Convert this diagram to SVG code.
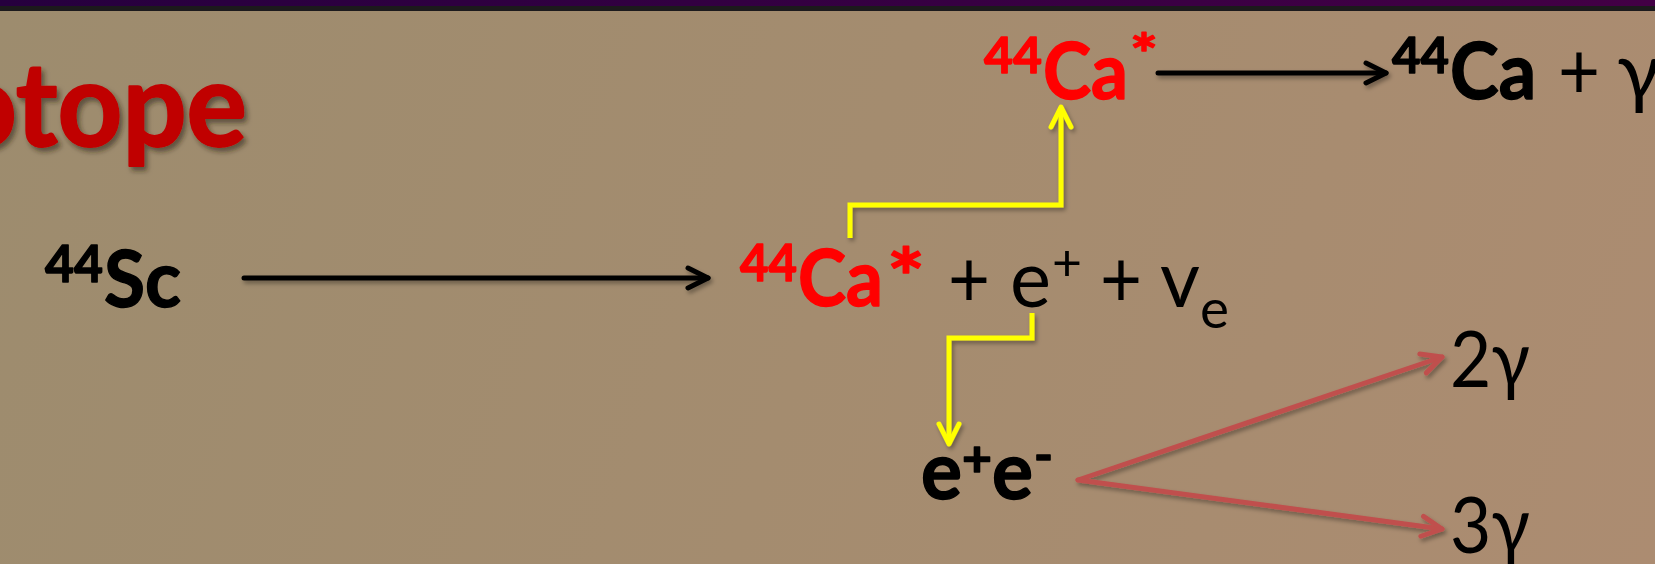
<svg xmlns="http://www.w3.org/2000/svg" width="1655" height="564" viewBox="0 0 1655 564">
  <defs>
    <linearGradient id="bg" x1="0" y1="0" x2="1655" y2="564" gradientUnits="userSpaceOnUse">
      <stop offset="0" stop-color="#9d8c6e"/>
      <stop offset="0.5" stop-color="#a48c6f"/>
      <stop offset="1" stop-color="#ac8c71"/>
    </linearGradient>
    <linearGradient id="bar" x1="0" y1="0" x2="1" y2="0">
      <stop offset="0" stop-color="#26003e"/>
      <stop offset="1" stop-color="#430045"/>
    </linearGradient>
    <filter id="sh" x="-10%" y="-30%" width="130%" height="180%">
      <feDropShadow dx="2" dy="3" stdDeviation="2" flood-color="#000" flood-opacity="0.35"/>
    </filter>
    <filter id="tsh" x="-10%" y="-20%" width="130%" height="150%">
      <feDropShadow dx="3" dy="4" stdDeviation="2.5" flood-color="#2a1a0a" flood-opacity="0.55"/>
    </filter>
    <marker id="mk" viewBox="-24 -13 28 26" refX="0" refY="0" markerWidth="28" markerHeight="26" markerUnits="userSpaceOnUse" orient="auto">
      <path d="M-20,-10 L0,0 L-20,10" fill="none" stroke="#000" stroke-width="5" stroke-linecap="round" stroke-linejoin="round"/>
    </marker>
    <marker id="my" viewBox="-24 -13 28 26" refX="0" refY="0" markerWidth="28" markerHeight="26" markerUnits="userSpaceOnUse" orient="auto">
      <path d="M-20,-10 L0,0 L-20,10" fill="none" stroke="#ffff00" stroke-width="5" stroke-linecap="round" stroke-linejoin="round"/>
    </marker>
    <marker id="mr" viewBox="-24 -13 28 26" refX="0" refY="0" markerWidth="28" markerHeight="26" markerUnits="userSpaceOnUse" orient="auto">
      <path d="M-20,-10 L0,0 L-20,10" fill="none" stroke="#c0504d" stroke-width="5" stroke-linecap="round" stroke-linejoin="round"/>
    </marker>
  </defs>
  <style>
    text { font-family: Lato, "Open Sans", "Liberation Sans", sans-serif; }
    .b { font-weight: 700; stroke-width: 1.4px; stroke-linejoin: round; }
    .r { font-weight: 400; }
    .red { fill: #ff0000; }
    .blk { fill: #000; }
    .b.red { stroke: #ff0000; }
    .b.blk { stroke: #000; }
    .title { fill: #c00000; stroke: #c00000; stroke-width: 2px; stroke-linejoin: round; font-weight: 700; font-size: 116px; }
    .sup { font-size: 51px; }
    .big { font-size: 79px; }
    .reg { font-size: 80px; }
    .kline { fill: none; stroke: #000; stroke-width: 5; stroke-linecap: round; marker-end: url(#mk); }
    .yline { fill: none; stroke: #ffff00; stroke-width: 5; stroke-linejoin: miter; marker-end: url(#my); }
    .rline { fill: none; stroke: #c0504d; stroke-width: 5; stroke-linecap: round; marker-end: url(#mr); }
  </style>

  <rect x="0" y="0" width="1655" height="564" fill="url(#bg)"/>
  <rect x="0" y="0" width="1655" height="6" fill="url(#bar)"/>
  <rect x="0" y="6" width="1655" height="5" fill="#1c1a1c"/>

  <g id="title">
    <text class="title" x="-48" y="146" textLength="295" lengthAdjust="spacingAndGlyphs" filter="url(#tsh)">otope</text>
  </g>

  <g id="connectors" filter="url(#sh)">
    <line class="kline" x1="244" y1="278" x2="708" y2="278"/>
    <line class="kline" x1="1158" y1="73" x2="1386" y2="73"/>
    <polyline class="yline" points="850,238 850,205 1061,205 1061,107"/>
    <polyline class="yline" points="1032,313 1032,338 949,338 949,444"/>
    <line class="rline" x1="1078" y1="480" x2="1442" y2="357"/>
    <line class="rline" x1="1078" y1="480" x2="1442" y2="529"/>
  </g>

  <g id="sc44">
    <text class="b blk sup" x="45" y="282" textLength="58" lengthAdjust="spacingAndGlyphs">44</text>
    <text class="b blk big" x="104" y="307" textLength="77" lengthAdjust="spacingAndGlyphs">Sc</text>
  </g>

  <g id="ca44-excited">
    <text class="b red sup" x="740" y="281" textLength="57" lengthAdjust="spacingAndGlyphs">44</text>
    <text class="b red big" x="798" y="306" textLength="85" lengthAdjust="spacingAndGlyphs">Ca</text>
    <text class="b red big" x="887" y="306" textLength="38" lengthAdjust="spacingAndGlyphs">*</text>
  </g>

  <g id="products">
    <text class="r blk reg" x="948" y="307" textLength="42" lengthAdjust="spacingAndGlyphs">+</text>
    <text class="r blk reg" x="1010" y="307" textLength="41" lengthAdjust="spacingAndGlyphs">e</text>
    <text class="r blk" font-size="50" x="1052" y="280" textLength="30" lengthAdjust="spacingAndGlyphs">+</text>
    <text class="r blk reg" x="1100" y="307" textLength="42" lengthAdjust="spacingAndGlyphs">+</text>
    <text class="r blk reg" x="1160" y="307" textLength="40" lengthAdjust="spacingAndGlyphs">v</text>
    <text class="r blk" font-size="55" x="1200" y="328" textLength="29" lengthAdjust="spacingAndGlyphs">e</text>
  </g>

  <g id="ca44-top">
    <text class="b red" font-size="50" x="984" y="73" textLength="58" lengthAdjust="spacingAndGlyphs">44</text>
    <text class="b red" font-size="78" x="1043" y="99" textLength="85" lengthAdjust="spacingAndGlyphs">Ca</text>
    <text class="b red" font-size="56" x="1130" y="74" textLength="28" lengthAdjust="spacingAndGlyphs">*</text>
  </g>

  <g id="ca44-ground">
    <text class="b blk" font-size="50" x="1392" y="73" textLength="57" lengthAdjust="spacingAndGlyphs">44</text>
    <text class="b blk" font-size="78" x="1450" y="99" textLength="86" lengthAdjust="spacingAndGlyphs">Ca</text>
    <text class="r blk reg" x="1558" y="99" textLength="42" lengthAdjust="spacingAndGlyphs">+</text>
    <text class="r blk reg" x="1617" y="99">γ</text>
  </g>

  <g id="pair">
    <text class="b blk reg" x="921" y="499" textLength="41" lengthAdjust="spacingAndGlyphs">e</text>
    <text class="b blk" font-size="50" x="962" y="476" textLength="30" lengthAdjust="spacingAndGlyphs">+</text>
    <text class="b blk reg" x="992" y="499" textLength="41" lengthAdjust="spacingAndGlyphs">e</text>
    <text class="b blk" font-size="50" x="1034" y="473" textLength="19" lengthAdjust="spacingAndGlyphs">-</text>
  </g>

  <g id="two-gamma">
    <text class="r blk" font-size="78" x="1450" y="387" textLength="80" lengthAdjust="spacingAndGlyphs">2γ</text>
  </g>

  <g id="three-gamma">
    <text class="r blk" font-size="78" x="1450" y="553" textLength="80" lengthAdjust="spacingAndGlyphs">3γ</text>
  </g>
</svg>
